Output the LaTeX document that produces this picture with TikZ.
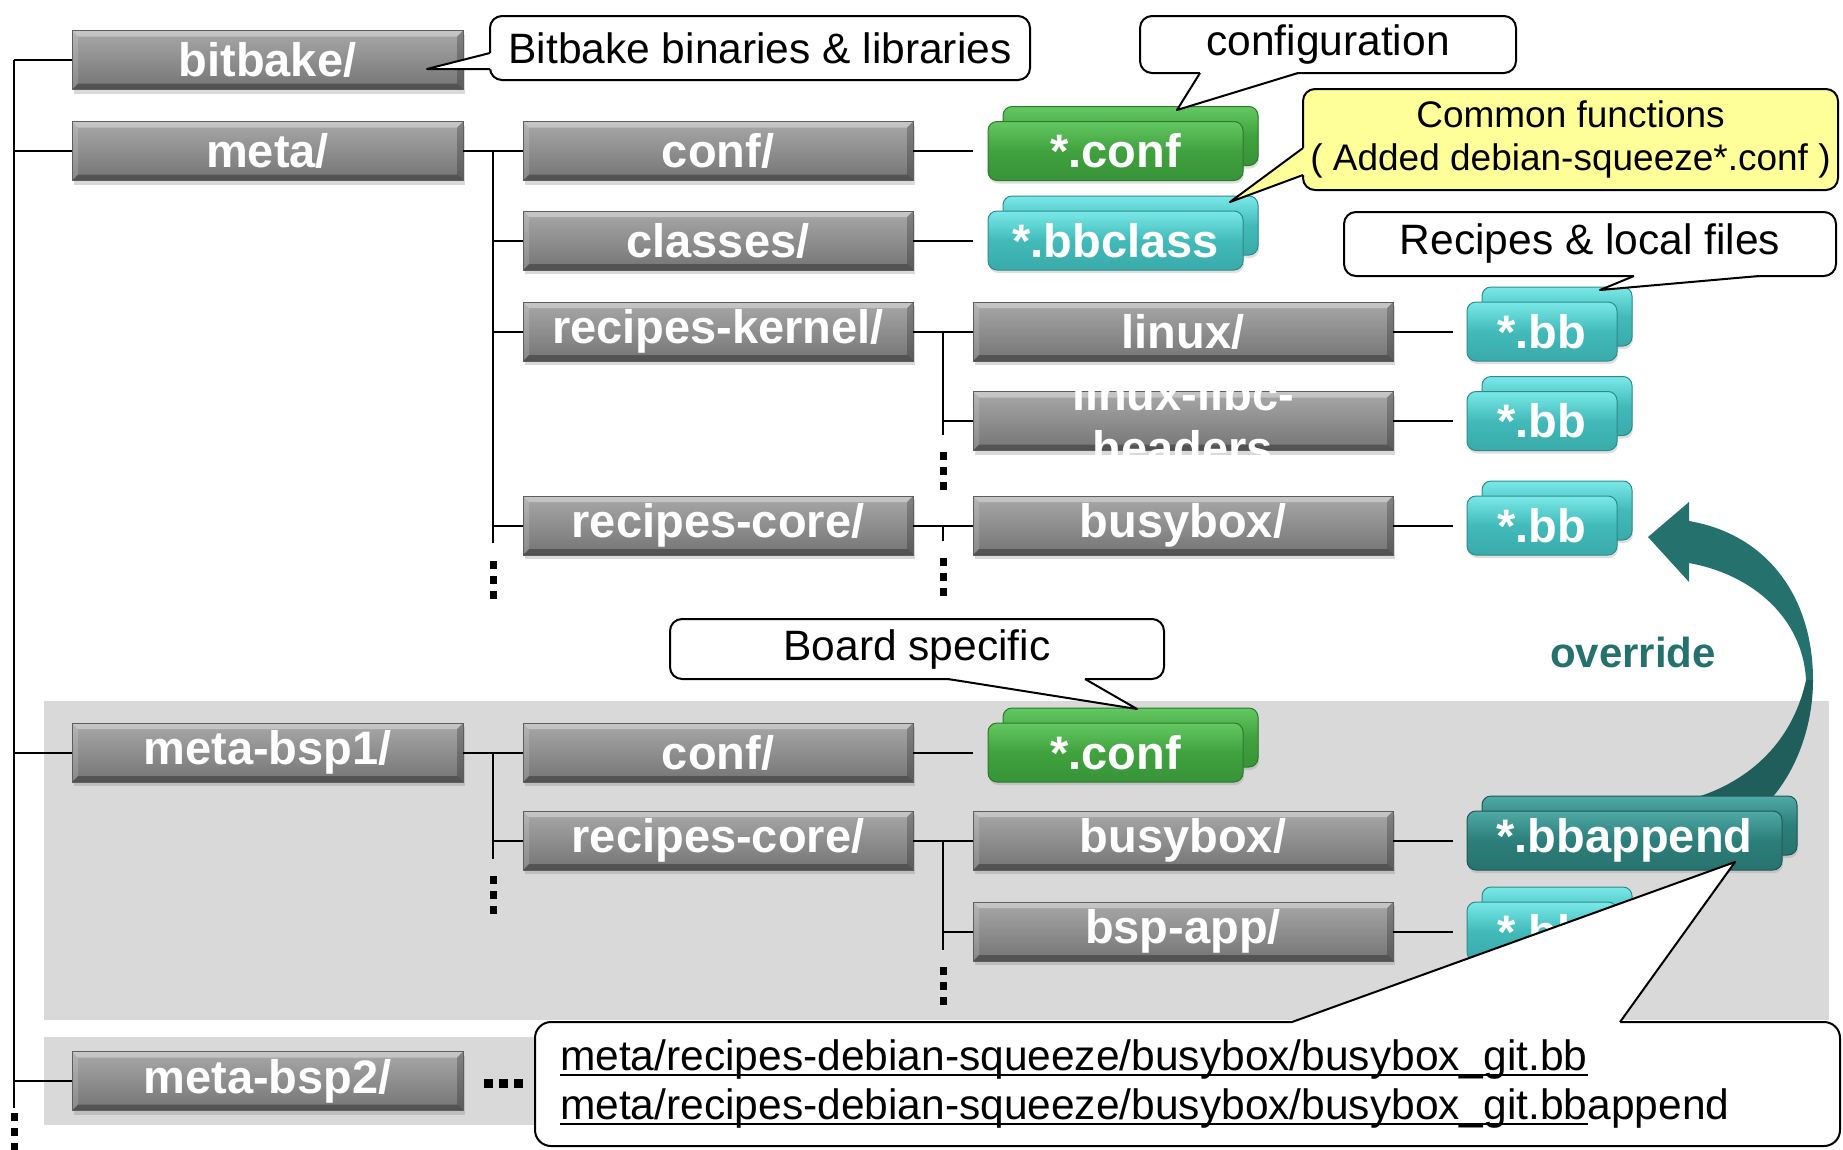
\documentclass[tikz,border=0pt]{standalone}
\usepackage{fontspec}
\setmainfont{Liberation Sans}
\usetikzlibrary{calc,shadows}

\definecolor{gTop}{HTML}{A8A8A8}
\definecolor{gBot}{HTML}{747474}
\definecolor{gEdge}{HTML}{5E5E5E}
\definecolor{grnTop}{HTML}{64C862}
\definecolor{grnMid}{HTML}{40A23E}
\definecolor{grnBot}{HTML}{379338}
\definecolor{grnEdge}{HTML}{2C7A2A}
\definecolor{tlTop}{HTML}{7AE8E8}
\definecolor{tlMid}{HTML}{42BABA}
\definecolor{tlBot}{HTML}{3AAAAA}
\definecolor{tlEdge}{HTML}{2C8C8C}
\definecolor{dkTop}{HTML}{4FA9A5}
\definecolor{dkMid}{HTML}{2C7E7A}
\definecolor{dkBot}{HTML}{28736F}
\definecolor{dkEdge}{HTML}{1D5956}
\definecolor{ovr}{HTML}{24716E}
\definecolor{ovrDark}{HTML}{1F5E5B}
\definecolor{bandgray}{HTML}{D9D9D9}
\definecolor{yel}{HTML}{FFFF99}

\newcommand\boxfont{\fontsize{47}{54}\selectfont\bfseries}
\newcommand\callfont{\fontsize{42.5}{49}\selectfont}
\newcommand\yelfont{\fontsize{37}{43}\selectfont}

\newsavebox\myulbox
\newcommand\myul[1]{\leavevmode\sbox\myulbox{#1}\rlap{\rule[-5pt]{\wd\myulbox}{2pt}}\usebox\myulbox}

\newcommand\callptr[5]{%
  \fill[#4] (#1) -- (#2) -- ($(#2)+(#5)$) -- ($(#3)+(#5)$) -- (#3) -- cycle;
  \draw[callline] (#2) -- (#1) -- (#3);
}

\tikzset{
  conn/.style={line width=2pt, black},
  callline/.style={line width=2pt, line join=round, black},
  callbox/.style={draw=black, line width=2pt, fill=white, rounded corners=12pt, inner sep=0pt, font=\callfont, align=center},
  bevel/.style={path picture={
    \fill[white,opacity=0.35] (path picture bounding box.north west) -- (path picture bounding box.north east) -- ([xshift=-6pt,yshift=-6pt]path picture bounding box.north east) -- ([xshift=6pt,yshift=-6pt]path picture bounding box.north west) -- cycle;
    \fill[white,opacity=0.15] (path picture bounding box.north west) -- ([xshift=6pt,yshift=-6pt]path picture bounding box.north west) -- ([xshift=6pt,yshift=6pt]path picture bounding box.south west) -- (path picture bounding box.south west) -- cycle;
    \fill[black,opacity=0.22] (path picture bounding box.north east) -- (path picture bounding box.south east) -- ([xshift=-6pt,yshift=6pt]path picture bounding box.south east) -- ([xshift=-6pt,yshift=-6pt]path picture bounding box.north east) -- cycle;
    \fill[black,opacity=0.3] (path picture bounding box.south west) -- ([xshift=6pt,yshift=6pt]path picture bounding box.south west) -- ([xshift=-6pt,yshift=6pt]path picture bounding box.south east) -- (path picture bounding box.south east) -- cycle;
  }},
  folder/.style={draw=gEdge, line width=0.8pt, top color=gTop, bottom color=gBot,
    minimum height=59pt, inner sep=0pt, text=white, font=\boxfont, bevel,
    drop shadow={opacity=0.3, shadow xshift=1.5pt, shadow yshift=-4pt}},
  wa/.style={minimum width=391pt},
  wb/.style={minimum width=390pt},
  wc/.style={minimum width=420pt},
  fileicon/.style={rounded corners=9pt, minimum height=59pt, inner sep=0pt, text=white,
    font=\boxfont, line width=1pt,
    drop shadow={opacity=0.25, shadow xshift=1pt, shadow yshift=-3pt}},
  greenf/.style={fileicon, draw=grnEdge, top color=grnTop, bottom color=grnBot, middle color=grnMid},
  tealf/.style={fileicon, draw=tlEdge, top color=tlTop, bottom color=tlBot, middle color=tlMid},
  darkf/.style={fileicon, draw=dkEdge, top color=dkTop, bottom color=dkBot, middle color=dkMid},
  dotsq/.style={fill=black},
}

\begin{document}
\begin{tikzpicture}[x=1pt,y=-1pt]
\useasboundingbox (0,0) rectangle (1843,1149);

% background bands
\fill[bandgray] (43.5,701) rectangle (1829,1020);
\fill[bandgray] (43.5,1037) rectangle (1829,1125);

% override arrow
\fill[ovr] (1648,537) -- (1689,502) -- (1689,521) .. controls (1770,535) and (1813,600) .. (1813,680)
  -- (1806,680) .. controls (1803,620) and (1755,575) .. (1689,563) -- (1689,582) -- cycle;
\fill[ovrDark] (1813,680) .. controls (1813,725) and (1797,770) .. (1770,800)
  -- (1687,800) .. controls (1745,785) and (1792,745) .. (1806,680) -- cycle;
\node[text=ovr, font=\fontsize{42}{48}\selectfont\bfseries] (ovrlbl) at (1633,652) {override};

% column 1
\node[folder,wa] (bitbake) at (267.5,60) {bitbake/};
\node[folder,wa] (meta) at (267.5,151) {meta/};
\node[folder,wa] (bsp1) at (267.5,752.5) {meta-bsp1/};
\node[folder,wa] (bsp2) at (267.5,1081) {meta-bsp2/};
% column 2
\node[folder,wb] (conf1) at (718,151) {conf/};
\node[folder,wb] (classes) at (718,240.5) {classes/};
\node[folder,wb] (rk) at (718,331.5) {recipes-kernel/};
\node[folder,wb] (rc1) at (718,525.5) {recipes-core/};
\node[folder,wb] (conf2) at (718,752.5) {conf/};
\node[folder,wb] (rc2) at (718,840.5) {recipes-core/};
% column 3
\node[folder,wc] (linux) at (1183,331.5) {linux/};
\node[folder,wc] (llh) at (1183,421) {};
\node[text=white, font=\boxfont, align=center] (llhtext) at (llh) {linux-libc-\\headers};
\node[folder,wc] (busy1) at (1183,525.5) {busybox/};
\node[folder,wc] (busy2) at (1183,840.5) {busybox/};
\node[folder,wc] (bspapp) at (1183,931.5) {bsp-app/};

% file icons (back, then front)
\node[greenf,minimum width=255pt] (cfile1b) at (1130.5,136) {};
\node[greenf,minimum width=255pt] (cfile1) at (1115.5,151) {*.conf};
\node[tealf,minimum width=255pt] (bbclassb) at (1130.5,225.5) {};
\node[tealf,minimum width=255pt] (bbclass) at (1115.5,240.5) {*.bbclass};
\node[tealf,minimum width=150pt] (bb1b) at (1557,316.5) {};
\node[tealf,minimum width=150pt] (bb1) at (1542,331.5) {*.bb};
\node[tealf,minimum width=150pt] (bb2b) at (1557,406) {};
\node[tealf,minimum width=150pt] (bb2) at (1542,421) {*.bb};
\node[tealf,minimum width=150pt] (bb3b) at (1557,510.5) {};
\node[tealf,minimum width=150pt] (bb3) at (1542,525.5) {*.bb};
\node[greenf,minimum width=255pt] (cfile2b) at (1130.5,737.5) {};
\node[greenf,minimum width=255pt] (cfile2) at (1115.5,752.5) {*.conf};
\node[darkf,minimum width=315pt] (bbappb) at (1639.5,825.5) {};
\node[darkf,minimum width=315pt] (bbapp) at (1624.5,840.5) {*.bbappend};
\node[tealf,minimum width=150pt] (bb4b) at (1557,916.5) {};
\node[tealf,minimum width=150pt] (bb4) at (1542,931.5) {*.bb};

% trunk
\coordinate (trunk) at (14,0);
\coordinate (trunkEnd) at (14,1108);
\coordinate (b1) at (493,0);
\coordinate (b3) at (943,0);
\draw[conn] (trunk |- bitbake.west) -- (trunkEnd);
\foreach \n in {bitbake,meta,bsp1,bsp2} \draw[conn] (trunk |- \n.west) -- (\n.west);
\foreach \k in {0,1,2} \fill[dotsq] (10.5,1113+\k*15) rectangle ++(7,8);

% meta branch
\draw[conn] (meta.east) -- (conf1.west);
\draw[conn] (b1 |- meta.east) -- ($(b1 |- rc1.west)+(0,17)$);
\foreach \n in {classes,rk,rc1} \draw[conn] (b1 |- \n.west) -- (\n.west);
\foreach \k in {0,1,2} \fill[dotsq] ($(b1 |- rc1.west)+(-3.5,35+\k*15)$) rectangle ++(7,8);

% recipes-kernel branch
\draw[conn] (rk.east) -- (linux.west);
\draw[conn] (b3 |- rk.east) -- ($(b3 |- llh.west)+(0,14)$);
\draw[conn] (b3 |- llh.west) -- (llh.west);
\foreach \k in {0,1,2} \fill[dotsq] ($(b3 |- llh.west)+(-3.5,31+\k*15)$) rectangle ++(7,8);

% recipes-core branch
\draw[conn] (rc1.east) -- (busy1.west);
\draw[conn] (b3 |- rc1.east) -- ($(b3 |- rc1.east)+(0,15)$);
\foreach \k in {0,1,2} \fill[dotsq] ($(b3 |- rc1.east)+(-3.5,32+\k*15)$) rectangle ++(7,8);

% file connectors
\draw[conn, shorten >=15pt] (conf1.east) -- (cfile1.west);
\draw[conn, shorten >=15pt] (classes.east) -- (bbclass.west);
\draw[conn, shorten >=14pt] (linux.east) -- (bb1.west);
\draw[conn, shorten >=14pt] (llh.east) -- (bb2.west);
\draw[conn, shorten >=14pt] (busy1.east) -- (bb3.west);
\draw[conn, shorten >=15pt] (conf2.east) -- (cfile2.west);
\draw[conn, shorten >=14pt] (busy2.east) -- (bbapp.west);
\draw[conn, shorten >=14pt] (bspapp.east) -- (bb4.west);

% meta-bsp1 branch
\draw[conn] (bsp1.east) -- (conf2.west);
\draw[conn] (b1 |- bsp1.east) -- ($(b1 |- rc2.west)+(0,18)$);
\draw[conn] (b1 |- rc2.west) -- (rc2.west);
\foreach \k in {0,1,2} \fill[dotsq] ($(b1 |- rc2.west)+(-3.5,35+\k*15)$) rectangle ++(7,8);

% bsp recipes-core branch
\draw[conn] (rc2.east) -- (busy2.west);
\draw[conn] (b3 |- rc2.east) -- ($(b3 |- bspapp.west)+(0,18)$);
\draw[conn] (b3 |- bspapp.west) -- (bspapp.west);
\foreach \k in {0,1,2} \fill[dotsq] ($(b3 |- bspapp.west)+(-3.5,35+\k*15)$) rectangle ++(7,8);

% meta-bsp2 ellipsis
\foreach \k in {0,1,2} \fill[dotsq] (483.5+\k*15,1079) rectangle ++(9,9);

% callouts
\node[callbox, minimum width=540pt, minimum height=64pt] (cBit) at (760,48) {Bitbake binaries \& libraries};
\coordinate (tBit) at (427,69);
\callptr{tBit}{490,53}{490,69}{white}{3,0}

\node[callbox, minimum width=376pt, minimum height=57pt] (cConf) at (1328,44.5) {configuration};
\coordinate (tConf) at (1177,110);
\callptr{tConf}{1200,73}{1298,73}{white}{0,-3}

\node[callbox, fill=yel, font=\yelfont, minimum width=535pt, minimum height=101pt] (cCommon) at (1570.5,139.5) {Common functions\\( Added debian-squeeze*.conf )};
\coordinate (tCommon) at (1230,202);
\callptr{tCommon}{1303,148}{1303,175}{yel}{3,0}

\node[callbox, minimum width=492pt, minimum height=64pt] (cRec) at (1590,244) {Recipes \& local files};
\coordinate (tRec) at (1600,290);
\callptr{tRec}{1634,276}{1759,276}{white}{0,-3}

\node[callbox, minimum width=494pt, minimum height=60pt] (cBoard) at (917,649) {Board specific};
\coordinate (tBoard) at (1137,709);
\callptr{tBoard}{948,679}{1085,679}{white}{0,-3}

\node[callbox, align=left, text width=1255pt, inner xsep=25pt, minimum height=124pt, rounded corners=16pt] (cPath) at (1187.5,1084)
  {\myul{meta/recipes-debian-squeeze/busybox/busybox\_git.bb}\\
   \myul{meta/recipes-debian-squeeze/busybox/busybox\_git.bb}append};
\coordinate (tPath) at (1735,862);
\callptr{tPath}{1292,1022}{1620,1022}{white}{0,3}

\end{tikzpicture}
\end{document}
